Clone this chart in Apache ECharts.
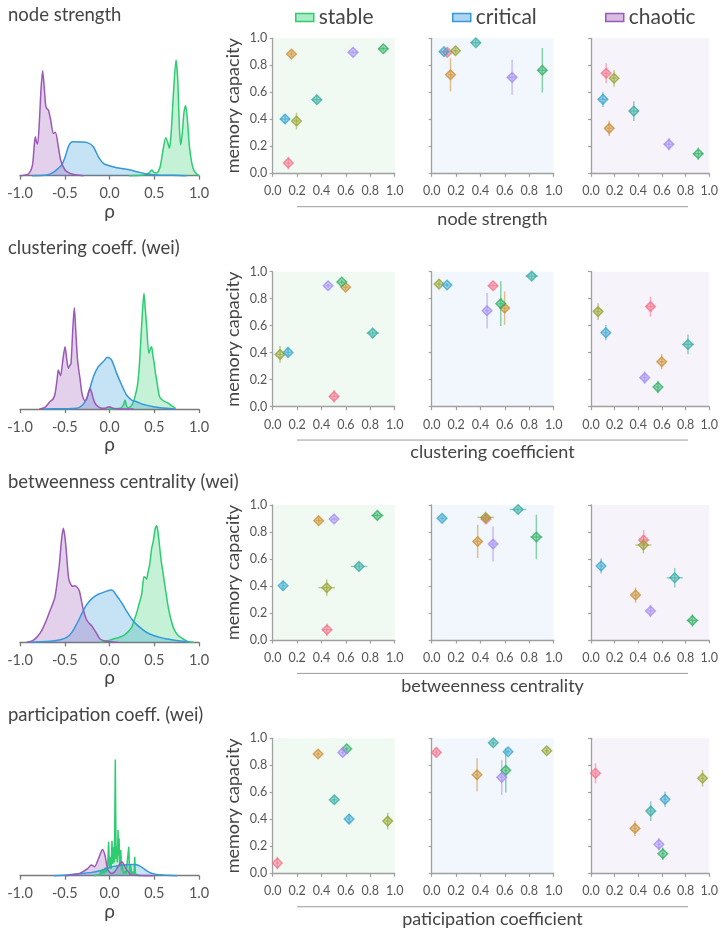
<!DOCTYPE html>
<html>
<head>
<meta charset="utf-8">
<script src="https://cdn.jsdelivr.net/npm/echarts@6/dist/echarts.min.js"></script>
<style>
html, body { margin: 0; padding: 0; background: #ffffff; }
#chart { width: 721px; height: 932px; }
</style>
</head>
<body>
<div id="chart"></div>
<script>
// ---- labels ----
const regimes = ['stable', 'critical', 'chaotic'];
const rowTitles = ['node strength', 'clustering coeff. (wei)', 'betweenness centrality (wei)', 'participation coeff. (wei)'];
const rowXLabels = ['node strength', 'clustering coefficient', 'betweenness centrality', 'paticipation coefficient'];
const densityTickLabels = ['-1.0', '-0.5', '0.0', '0.5', '1.0'];
const scatterTickLabels = ['0.0', '0.2', '0.4', '0.6', '0.8', '1.0'];

// ---- memory capacity per regime (seven networks) ----
const memStable   = [0.076, 0.884, 0.387, 0.923, 0.545, 0.402, 0.896];
const memCritical = [0.896, 0.730, 0.908, 0.763, 0.967, 0.901, 0.711];
const memChaotic  = [0.741, 0.333, 0.704, 0.145, 0.461, 0.548, 0.215];
const memErrStable   = [0.047, 0.020, 0.062, 0.015, 0.025, 0.037, 0.015];
const memErrCritical = [0.020, 0.123, 0.020, 0.165, 0.020, 0.015, 0.130];
const memErrChaotic  = [0.074, 0.057, 0.062, 0.046, 0.073, 0.056, 0.046];

// ---- network property values (seven networks) ----
const strengthX         = [0.128, 0.154, 0.195, 0.907, 0.362, 0.101, 0.659];
const strengthXErr      = [0.020, 0.020, 0.020, 0.040, 0.040, 0.040, 0.040];
const clusteringX       = [0.503, 0.598, 0.060, 0.566, 0.820, 0.126, 0.454];
const clusteringXErr    = [0.035, 0.020, 0.020, 0.020, 0.052, 0.020, 0.020];
const betweennessX      = [0.445, 0.377, 0.443, 0.858, 0.708, 0.085, 0.503];
const betweennessXErr   = [0.035, 0.025, 0.068, 0.050, 0.068, 0.020, 0.025];
const participationX    = [0.038, 0.372, 0.943, 0.607, 0.505, 0.626, 0.574];
const participationXErr = [0.015, 0.015, 0.015, 0.015, 0.020, 0.015, 0.015];

// ---- correlation densities (rho, density) ----
const kdeStrengthStable = [[0.218,0],[0.378,0.02],[0.441,0.08],[0.471,0.17],[0.497,0.1],[0.527,0.08],[0.564,0.25],[0.594,0.7],[0.628,1.14],[0.65,1.0],[0.669,0.82],[0.687,1.2],[0.713,2.4],[0.743,3.47],[0.762,2.9],[0.78,1.5],[0.795,0.92],[0.814,1.3],[0.832,1.9],[0.851,2.1],[0.87,1.7],[0.892,0.9],[0.918,0.4],[0.944,0.15],[0.974,0.05],[1.0,0]];
const kdeStrengthCritical = [[-0.862,0],[-0.702,0.02],[-0.628,0.1],[-0.572,0.22],[-0.534,0.32],[-0.497,0.55],[-0.46,0.87],[-0.434,0.99],[-0.404,1.02],[-0.33,1.01],[-0.248,0.99],[-0.181,0.87],[-0.125,0.57],[-0.069,0.37],[0.006,0.29],[0.08,0.24],[0.192,0.19],[0.304,0.12],[0.415,0.05],[0.527,0.02],[0.713,0.01],[0.862,0]];
const kdeStrengthChaotic = [[-0.993,0],[-0.907,0.05],[-0.862,0.3],[-0.844,0.8],[-0.829,1.17],[-0.814,1.0],[-0.803,0.95],[-0.784,1.6],[-0.765,2.6],[-0.747,3.15],[-0.728,2.6],[-0.713,2.1],[-0.702,2.02],[-0.683,1.97],[-0.657,1.67],[-0.628,1.27],[-0.605,1.3],[-0.572,0.87],[-0.546,0.47],[-0.497,0.17],[-0.441,0.07],[-0.37,0.02],[-0.29,0]];

const kdeClusteringStable = [[-0.01,0],[0.12,0.02],[0.155,0.12],[0.173,0.27],[0.19,0.1],[0.21,0.03],[0.24,0.08],[0.265,0.2],[0.285,0.37],[0.31,0.67],[0.33,1.17],[0.352,2.17],[0.37,3.0],[0.385,3.47],[0.4,3.0],[0.415,2.47],[0.44,1.67],[0.455,1.8],[0.47,1.87],[0.485,1.6],[0.497,1.42],[0.512,1.1],[0.527,0.87],[0.545,0.55],[0.56,0.37],[0.59,0.27],[0.62,0.22],[0.66,0.17],[0.69,0.1],[0.71,0.07],[0.74,0]];
const kdeClusteringCritical = [[-0.74,0],[-0.5,0.01],[-0.367,0.02],[-0.3,0.12],[-0.255,0.32],[-0.22,0.6],[-0.18,0.97],[-0.125,1.27],[-0.069,1.42],[-0.024,1.55],[0.0,1.53],[0.024,1.47],[0.05,1.3],[0.08,1.07],[0.136,0.72],[0.19,0.42],[0.248,0.27],[0.3,0.22],[0.378,0.14],[0.49,0.07],[0.64,0.02],[0.73,0]];
const kdeClusteringChaotic = [[-0.784,0],[-0.72,0.05],[-0.665,0.22],[-0.63,0.3],[-0.609,0.45],[-0.585,0.9],[-0.572,1.17],[-0.555,1.05],[-0.546,1.0],[-0.52,1.5],[-0.497,1.87],[-0.478,1.5],[-0.46,1.22],[-0.445,1.3],[-0.43,1.37],[-0.41,2.4],[-0.393,3.04],[-0.378,2.4],[-0.36,1.57],[-0.345,1.2],[-0.33,0.92],[-0.31,0.5],[-0.29,0.3],[-0.27,0.25],[-0.255,0.3],[-0.235,0.5],[-0.218,0.62],[-0.2,0.5],[-0.18,0.3],[-0.16,0.17],[-0.14,0.1],[-0.1,0.03],[-0.06,0.02],[-0.03,0.04],[0.0,0.07],[0.03,0.03],[0.08,0.01],[0.27,0]];

const kdeBetweennessStable = [[-0.106,0],[-0.02,0.05],[0.043,0.1],[0.1,0.14],[0.155,0.2],[0.2,0.3],[0.248,0.45],[0.28,0.7],[0.3,0.85],[0.33,1.15],[0.36,1.45],[0.385,1.97],[0.4,1.95],[0.415,1.9],[0.43,2.1],[0.45,2.35],[0.47,2.8],[0.49,3.05],[0.51,3.4],[0.527,3.5],[0.542,3.3],[0.557,2.95],[0.575,2.5],[0.6,2.05],[0.63,1.5],[0.657,1.05],[0.685,0.7],[0.713,0.45],[0.74,0.3],[0.77,0.2],[0.8,0.14],[0.825,0.1],[0.86,0.04],[0.88,0.02],[0.944,0]];
const kdeBetweennessCritical = [[-0.925,0],[-0.665,0.03],[-0.55,0.08],[-0.479,0.15],[-0.42,0.3],[-0.367,0.55],[-0.32,0.8],[-0.274,1.05],[-0.23,1.22],[-0.18,1.35],[-0.12,1.45],[-0.069,1.5],[-0.02,1.55],[0.024,1.57],[0.05,1.52],[0.08,1.4],[0.12,1.25],[0.155,1.1],[0.2,0.9],[0.248,0.7],[0.29,0.57],[0.34,0.45],[0.4,0.32],[0.45,0.25],[0.5,0.2],[0.564,0.15],[0.64,0.1],[0.713,0.07],[0.79,0.04],[0.862,0.02],[0.9,0]];
const kdeBetweennessChaotic = [[-0.925,0],[-0.86,0.05],[-0.814,0.15],[-0.77,0.3],[-0.74,0.45],[-0.7,0.7],[-0.665,0.95],[-0.635,1.15],[-0.61,1.35],[-0.585,1.8],[-0.56,2.35],[-0.535,3.1],[-0.516,3.42],[-0.5,3.2],[-0.486,2.85],[-0.47,2.3],[-0.455,1.9],[-0.434,1.75],[-0.41,1.68],[-0.385,1.7],[-0.36,1.65],[-0.337,1.55],[-0.31,1.2],[-0.29,0.95],[-0.26,0.7],[-0.236,0.6],[-0.2,0.5],[-0.18,0.42],[-0.14,0.25],[-0.106,0.1],[-0.05,0.04],[0.006,0.02],[0.1,0]];

const kdeParticipationStable = [[-0.17,0],[-0.14,0.02],[-0.12,0.08],[-0.11,0.02],[-0.095,0.15],[-0.085,0.04],[-0.07,0.2],[-0.06,0.06],[-0.045,0.25],[-0.035,0.1],[-0.02,0.3],[-0.01,1.02],[0.0,0.25],[0.01,0.55],[0.018,0.2],[0.028,1.05],[0.036,0.35],[0.047,0.87],[0.055,0.4],[0.065,3.49],[0.073,0.5],[0.08,0.9],[0.088,0.4],[0.095,1.37],[0.101,0.6],[0.107,1.12],[0.115,0.3],[0.126,0.77],[0.135,0.15],[0.145,0.3],[0.155,0.05],[0.17,0.15],[0.185,0.05],[0.2,0.1],[0.215,0.87],[0.225,0.08],[0.237,0.32],[0.248,0.05],[0.265,0.12],[0.275,0.05],[0.282,0.57],[0.29,0.05],[0.31,0.02],[0.34,0]];
const kdeParticipationCritical = [[-0.622,0],[-0.45,0.03],[-0.3,0.07],[-0.2,0.1],[-0.11,0.15],[-0.05,0.2],[0.0,0.24],[0.05,0.28],[0.1,0.3],[0.15,0.32],[0.2,0.33],[0.26,0.34],[0.3,0.33],[0.34,0.29],[0.38,0.22],[0.413,0.15],[0.46,0.08],[0.525,0.04],[0.6,0.02],[0.757,0]];
const kdeParticipationChaotic = [[-0.484,0],[-0.335,0.07],[-0.241,0.22],[-0.204,0.32],[-0.166,0.27],[-0.129,0.47],[-0.103,0.65],[-0.08,0.79],[-0.054,0.65],[-0.036,0.4],[-0.017,0.17],[0.021,0.07],[0.058,0.12],[0.107,0.32],[0.14,0.42],[0.159,0.35],[0.181,0.22],[0.215,0.1],[0.245,0.02],[0.488,0]];

// ---- assemble per row / regime ----
const memByRegime = [memStable, memCritical, memChaotic];
const memErrByRegime = [memErrStable, memErrCritical, memErrChaotic];
const xByRow = [strengthX, clusteringX, betweennessX, participationX];
const xErrByRow = [strengthXErr, clusteringXErr, betweennessXErr, participationXErr];
const kdeByRow = [
  [kdeStrengthStable, kdeStrengthCritical, kdeStrengthChaotic],
  [kdeClusteringStable, kdeClusteringCritical, kdeClusteringChaotic],
  [kdeBetweennessStable, kdeBetweennessCritical, kdeBetweennessChaotic],
  [kdeParticipationStable, kdeParticipationCritical, kdeParticipationChaotic]
];

// ---- styling ----
const FONT = 'Lato';
const regimeLine = ['#2ecc71', '#3498db', '#9b59b6'];
const regimeFill = ['rgba(46,204,113,0.4)', 'rgba(52,152,219,0.4)', 'rgba(155,89,182,0.4)'];
const panelBg = ['#f0faf3', '#f1f7fc', '#f6f3fa'];
const networkColors = ['#f77189', '#ce9032', '#97a431', '#32b166', '#36ada4', '#39a7d0', '#a48cf4'];
function withAlpha(hex, a) {
  const n = parseInt(hex.slice(1), 16);
  return 'rgba(' + ((n >> 16) & 255) + ',' + ((n >> 8) & 255) + ',' + (n & 255) + ',' + a + ')';
}

const ROW = 233.35;
const panelLeft = [272.7, 431.7, 591];
const PANEL_W = 122, PANEL_H = 135, PANEL_TOP = 38.3;
const KDE_BOTTOM = 179, KDE_H = 120;

const grids = [], xAxes = [], yAxes = [], series = [], graphics = [];

for (let r = 0; r < 4; r++) {
  // density panel
  let gi = grids.length;
  grids.push({ left: 20, width: 179, top: KDE_BOTTOM + ROW * r - KDE_H, height: KDE_H });
  xAxes.push({
    gridIndex: gi, type: 'value', min: -1, max: 1, interval: 0.5,
    axisLine: { lineStyle: { color: '#7a7a7a', width: 1.3 } },
    axisTick: { length: 4, lineStyle: { color: '#7a7a7a', width: 1.3 } },
    axisLabel: { fontSize: 14.5, color: '#555', margin: 7, fontFamily: FONT,
      formatter: v => densityTickLabels[Math.round((v + 1) / 0.5)] },
    splitLine: { show: false },
    name: 'ρ', nameLocation: 'middle', nameGap: 21,
    nameTextStyle: { fontSize: 19, color: '#444', fontFamily: FONT }
  });
  yAxes.push({ gridIndex: gi, type: 'value', min: -0.1, max: 3.5, show: false });
  for (let c = 0; c < 3; c++) {
    series.push({
      name: regimes[c], type: 'line', xAxisIndex: gi, yAxisIndex: gi,
      data: kdeByRow[r][c], showSymbol: false, smooth: r === 3 && c === 0 ? false : 0.25,
      lineStyle: { color: regimeLine[c], width: 1.5 },
      itemStyle: { color: regimeLine[c] },
      areaStyle: { color: regimeFill[c] },
      silent: true, animation: false
    });
  }

  // scatter panels, one per regime
  for (let c = 0; c < 3; c++) {
    gi = grids.length;
    grids.push({ left: panelLeft[c], width: PANEL_W, top: PANEL_TOP + ROW * r, height: PANEL_H,
      show: true, backgroundColor: panelBg[c], borderWidth: 0 });
    xAxes.push({
      gridIndex: gi, type: 'value', min: 0, max: 1, interval: 0.2, offset: 3.5,
      axisLine: { lineStyle: { color: '#a0a0a0', width: 1.3 } },
      axisTick: { length: 3.5, lineStyle: { color: '#a0a0a0', width: 1.2 } },
      axisLabel: { fontSize: 12.5, color: '#555', margin: 8, fontFamily: FONT,
        formatter: v => scatterTickLabels[Math.round(v / 0.2)] },
      splitLine: { show: false }
    });
    yAxes.push({
      gridIndex: gi, type: 'value', min: 0, max: 1, interval: 0.2, offset: 1.5,
      axisLine: { show: true, lineStyle: { color: '#a0a0a0', width: 1.3 } },
      axisTick: { show: true, length: 3, lineStyle: { color: '#a0a0a0', width: 1.2 } },
      axisLabel: { show: c === 0, fontSize: 12.5, color: '#555', margin: 4, fontFamily: FONT,
        formatter: v => scatterTickLabels[Math.round(v / 0.2)] },
      splitLine: { show: false },
      name: c === 0 ? 'memory capacity' : '', nameLocation: 'middle', nameGap: 29,
      nameTextStyle: { fontSize: 18, color: '#444', fontFamily: FONT }
    });

    const pts = xByRow[r].map((x, k) => [x, memByRegime[c][k], xErrByRow[r][k], memErrByRegime[c][k], k]);
    series.push({
      type: 'custom', xAxisIndex: gi, yAxisIndex: gi, data: pts, silent: true, animation: false,
      encode: { x: 0, y: 1 }, z: 2,
      renderItem: (params, api) => {
        const x = api.value(0), y = api.value(1), ex = api.value(2), ey = api.value(3);
        const col = withAlpha(networkColors[api.value(4)], 0.55);
        const v0 = api.coord([x, y - ey]), v1 = api.coord([x, y + ey]);
        const h0 = api.coord([x - ex, y]), h1 = api.coord([x + ex, y]);
        return { type: 'group', children: [
          { type: 'line', shape: { x1: v0[0], y1: v0[1], x2: v1[0], y2: v1[1] }, style: { stroke: col, lineWidth: 1.5 } },
          { type: 'line', shape: { x1: h0[0], y1: h0[1], x2: h1[0], y2: h1[1] }, style: { stroke: col, lineWidth: 1.5 } }
        ] };
      }
    });
    series.push({
      type: 'scatter', xAxisIndex: gi, yAxisIndex: gi, symbol: 'diamond', symbolSize: 9.5,
      silent: true, animation: false, z: 3,
      data: pts.map(p => ({ value: [p[0], p[1]], itemStyle: {
        color: withAlpha(networkColors[p[4]], 0.55), borderColor: networkColors[p[4]], borderWidth: 1.5 } }))
    });
  }

  // row title, shared x label and its rule
  graphics.push({ type: 'text', x: 8, y: 15 + ROW * r,
    style: { text: rowTitles[r], fill: '#444', fontSize: 18.5, fontFamily: FONT, verticalAlign: 'middle', align: 'left' } });
  graphics.push({ type: 'line', shape: { x1: 297, y1: 206.7 + ROW * r, x2: 688, y2: 206.7 + ROW * r },
    style: { stroke: '#9a9a9a', lineWidth: 1 } });
  graphics.push({ type: 'text', x: 492.5, y: 219 + ROW * r,
    style: { text: rowXLabels[r], fill: '#444', fontSize: 18, fontFamily: FONT, verticalAlign: 'middle', align: 'center' } });
}

const legendLeft = [290, 447, 600];
const legends = regimes.map((name, c) => ({
  left: legendLeft[c], top: 2, selectedMode: false, itemWidth: 18, itemHeight: 8, itemGap: 14,
  textStyle: { fontSize: 21, color: '#444', fontFamily: FONT },
  data: [{ name: name, icon: 'rect', itemStyle: { color: regimeFill[c], borderColor: regimeLine[c], borderWidth: 1.5 } }]
}));

const chart = echarts.init(document.getElementById('chart'), null, { renderer: 'canvas' });
chart.setOption({
  backgroundColor: '#ffffff',
  animation: false,
  textStyle: { fontFamily: FONT },
  legend: legends,
  grid: grids,
  xAxis: xAxes,
  yAxis: yAxes,
  series: series,
  graphic: graphics
});
</script>
</body>
</html>
